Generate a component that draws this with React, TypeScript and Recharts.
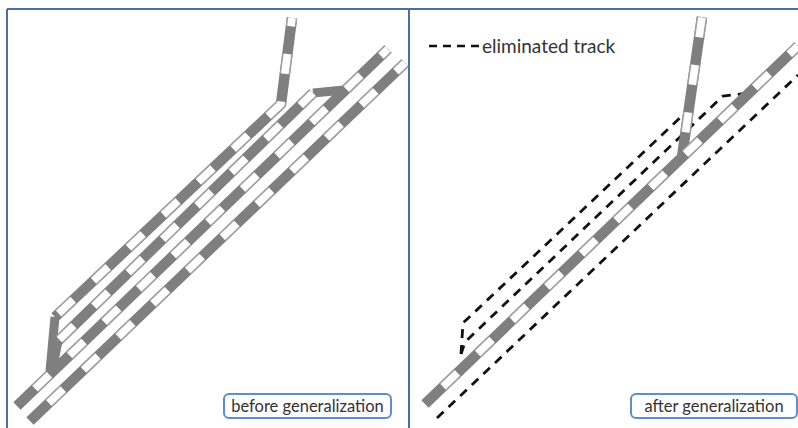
import React from 'react';
import { LineChart, Line, XAxis, YAxis, ReferenceArea, ReferenceDot, Label } from 'recharts';

type P = { x: number; y: number };
const pts = (a: number[][]): P[] => a.map(([x, y]) => ({ x, y }));

const frameTop = pts([[7, 9], [798, 9]]);
const frameLeft = pts([[7, 9], [7, 428]]);
const frameMiddle = pts([[409, 9], [409, 428]]);

const beforeSpur = pts([[55, 317], [281, 104], [292, 18]]);
const beforeBranch = pts([[58, 341], [313, 93]]);
const beforeMain = pts([[17, 406], [388, 49]]);
const beforeOuter = pts([[30, 421], [405, 63]]);
const linkSpur = pts([[50, 371], [55, 317]]);
const linkBranch = pts([[52, 371], [58, 341]]);
const linkBranchTop = pts([[313, 93], [344, 90]]);

const afterMain = pts([[425, 404], [798, 46]]);
const afterSpur = pts([[682, 157], [702, 17]]);

const goneUpper = pts([[461, 354], [463, 323], [683, 115]]);
const goneMiddle = pts([[461, 354], [465, 342], [723, 96], [749, 93]]);
const goneLower = pts([[437, 418], [798, 75]]);
const legendDash = pts([[429, 46], [481, 46]]);

const tracks: { id: string; data: P[]; offset: number }[] = [
  { id: 'spur', data: beforeSpur, offset: 43 },
  { id: 'branch', data: beforeBranch, offset: 46 },
  { id: 'main', data: beforeMain, offset: 23 },
  { id: 'outer', data: beforeOuter, offset: 22 },
  { id: 'afterMain', data: afterMain, offset: 23 },
  { id: 'afterSpur', data: afterSpur, offset: 23 },
];
const links = [linkSpur, linkBranch, linkBranchTop];
const eliminated = [goneUpper, goneMiddle, goneLower];
const frames = [frameTop, frameLeft, frameMiddle];

const FONT = 'Lato, "Open Sans", sans-serif';
const DASH = '20 28';
const common = { dataKey: 'y', dot: false, activeDot: false, isAnimationActive: false } as const;

export default function App() {
  return (
    <div style={{ position: 'absolute', left: 0, top: 0, width: 798, height: 428 }}>
      <LineChart width={798} height={428} margin={{ top: 0, right: 0, bottom: 0, left: 0 }}>
        <XAxis hide type="number" dataKey="x" domain={[0, 798]} />
        <YAxis hide type="number" dataKey="y" domain={[0, 428]} reversed />

        {frames.map((d, i) => (
          <Line key={`f${i}`} data={d} {...common} stroke="#4a6fa5" strokeWidth={2} />
        ))}

        {eliminated.map((d, i) => (
          <Line key={`e${i}`} data={d} {...common} stroke="#111" strokeWidth={2.8} strokeDasharray="9 7" />
        ))}

        {links.map((d, i) => (
          <Line key={`l${i}`} data={d} {...common} stroke="#7f7f7f" strokeWidth={9} />
        ))}
        {tracks.map(t => (
          <Line key={`${t.id}-b`} data={t.data} {...common} stroke="#7f7f7f" strokeWidth={10.5} strokeLinejoin="miter" />
        ))}
        {tracks.map(t => (
          <Line key={`${t.id}-c`} data={t.data} {...common} stroke="#a0a0a0" strokeWidth={10.5} strokeDasharray={DASH} strokeDashoffset={t.offset} />
        ))}
        {tracks.map(t => (
          <Line key={`${t.id}-w`} data={t.data} {...common} stroke="#ffffff" strokeWidth={7.5} strokeDasharray={DASH} strokeDashoffset={t.offset} />
        ))}

        <Line data={legendDash} {...common} stroke="#111" strokeWidth={2.4} strokeDasharray="8 6" />
        <ReferenceDot x={482} y={46} r={0} stroke="none" fill="none" ifOverflow="visible">
          <Label value="eliminated track" position="right" offset={0} fontFamily={FONT} fontSize={19} fill="#333" />
        </ReferenceDot>

        <ReferenceArea x1={224} x2={391} y1={394} y2={418} radius={5} fill="#fff" fillOpacity={1} stroke="#5b8fd0" strokeWidth={2} ifOverflow="visible">
          <Label value="before generalization" position="center" fontFamily={FONT} fontSize={16.5} fill="#333" />
        </ReferenceArea>
        <ReferenceArea x1={631} x2={797} y1={394} y2={418} radius={5} fill="#fff" fillOpacity={1} stroke="#5b8fd0" strokeWidth={2} ifOverflow="visible">
          <Label value="after generalization" position="center" fontFamily={FONT} fontSize={16.5} fill="#333" />
        </ReferenceArea>
      </LineChart>
    </div>
  );
}
